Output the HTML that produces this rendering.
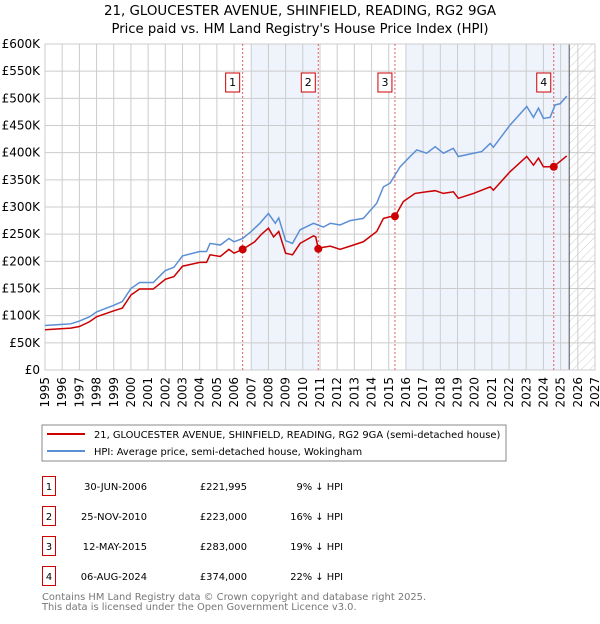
<!DOCTYPE html>
<html><head><meta charset="utf-8"><style>
body{margin:0;background:#fff;font-family:"DejaVu Sans","Liberation Sans",sans-serif;}
svg text{font-family:"DejaVu Sans","Liberation Sans",sans-serif;}
</style></head><body>
<svg id="c" width="600" height="620" xmlns="http://www.w3.org/2000/svg">
<defs><pattern id="hatch" width="6" height="6" patternUnits="userSpaceOnUse" patternTransform="rotate(45)"><line x1="0" y1="0" x2="0" y2="6" stroke="#ccc" stroke-width="1"/></pattern></defs>
<text x="300" y="15" text-anchor="middle" font-size="13.4">21, GLOUCESTER AVENUE, SHINFIELD, READING, RG2 9GA</text>
<text x="300" y="33" text-anchor="middle" font-size="13.2">Price paid vs. HM Land Registry's House Price Index (HPI)</text>
<g id="plot"></g>
<rect x="42" y="425" width="464" height="36" fill="none" stroke="#888"/>
<line x1="47" y1="434" x2="85" y2="434" stroke="#cc0000" stroke-width="2"/>
<text x="94" y="438" font-size="9.9">21, GLOUCESTER AVENUE, SHINFIELD, READING, RG2 9GA (semi-detached house)</text>
<line x1="47" y1="451" x2="85" y2="451" stroke="#5b8fd4" stroke-width="2"/>
<text x="94" y="455" font-size="9.9">HPI: Average price, semi-detached house, Wokingham</text>
<g id="tbl" font-size="9.9"></g>
<text x="42" y="600" font-size="9.9" fill="#777">Contains HM Land Registry data © Crown copyright and database right 2025.</text>
<text x="42" y="610" font-size="9.9" fill="#777">This data is licensed under the Open Government Licence v3.0.</text>
</svg>
<script>
const yTicks=[0,50,100,150,200,250,300,350,400,450,500,550,600];
const yTickLabels=["£0","£50K","£100K","£150K","£200K","£250K","£300K","£350K","£400K","£450K","£500K","£550K","£600K"];
const xYears=[1995,1996,1997,1998,1999,2000,2001,2002,2003,2004,2005,2006,2007,2008,2009,2010,2011,2012,2013,2014,2015,2016,2017,2018,2019,2020,2021,2022,2023,2024,2025,2026,2027];
const hpiYears=[1995,1996,1996.5,1997,1997.6,1998,1999,1999.5,2000,2000.5,2001.3,2002,2002.5,2003,2004,2004.4,2004.6,2005.2,2005.7,2006,2006.5,2007,2007.5,2008,2008.4,2008.6,2009,2009.4,2009.84,2010.62,2011.2,2011.6,2012.17,2012.75,2013.52,2014.3,2014.69,2015.08,2015.66,2016.24,2016.63,2017.21,2017.7,2018.18,2018.76,2019.05,2019.93,2020.41,2020.9,2021.09,2022.06,2023.03,2023.42,2023.71,2024.0,2024.39,2024.68,2024.97,2025.36];
const hpiValues=[82,84,85,90,98,107,119,126,150,161,161,183,189,210,218,218,233,230,242,236,242,255,270,288,270,280,238,233,258,270,263,270,267,275,279,307,337,344,374,393,405,399,411,399,408,393,399,402,417,410,451,485,465,482,463,465,488,490,504];
const priceYears=[1995,1996.5,1997,1997.6,1998,1999,1999.5,2000,2000.5,2001.3,2002,2002.5,2003,2004,2004.4,2004.6,2005.2,2005.7,2006,2006.5,2007.2,2007.6,2008,2008.3,2008.6,2009,2009.4,2009.84,2010.62,2010.75,2010.9,2011.2,2011.6,2012.17,2012.75,2013.52,2014.3,2014.69,2015.08,2015.37,2015.85,2016.53,2017.21,2017.7,2018.18,2018.76,2019.05,2019.93,2020.9,2021.09,2022.06,2023.03,2023.42,2023.71,2024.0,2024.58,2025.36];
const priceValues=[74,77,80,89,98,109,114,138,149,149,167,172,191,198,198,212,209,222,215,222,236,250,261,245,255,215,212,233,247,245,223,226,228,222,228,236,255,279,282,283,310,325,328,330,325,328,316,325,337,331,365,393,377,390,374,374,394];
const saleLabels=["1","2","3","4"];
const saleYears=[2006.5,2010.9,2015.36,2024.6];
const saleValues=[221.995,223,283,374];
const saleDates=["30-JUN-2006","25-NOV-2010","12-MAY-2015","06-AUG-2024"];
const salePrices=["£221,995","£223,000","£283,000","£374,000"];
const saleDiffs=["9% ↓ HPI","16% ↓ HPI","19% ↓ HPI","22% ↓ HPI"];
const NS="http://www.w3.org/2000/svg";
const L=45,R=595,T=44,B=370;
const xs=y=>L+(y-1995)/32*(R-L);
const ys=v=>B-v/600*(B-T);
const plot=document.getElementById('plot');
function mk(tag,attrs,parent){const e=document.createElementNS(NS,tag);for(const k in attrs)e.setAttribute(k,attrs[k]);(parent||plot).appendChild(e);return e;}
let s1=mk('rect',{x:xs(2007),y:T,width:xs(2010.9)-xs(2007),height:B-T,fill:'#eef3fc'});


let s2=mk('rect',{x:xs(2016),y:T,width:xs(2025.5)-xs(2016),height:B-T,fill:'#eef3fc'});


let hz=mk('rect',{x:xs(2025.5),y:T,width:R-xs(2025.5),height:B-T,fill:'url(#hatch)'});


yTicks.forEach((v,i)=>{
 let g=mk('line',{x1:L,x2:R,y1:ys(v),y2:ys(v),stroke:'#ccc','stroke-width':1});
 
 
 let t=mk('text',{x:L-5,y:ys(v)+4,'text-anchor':'end','font-size':12});
 t.textContent=yTickLabels[i];
 
 
});
xYears.forEach(yr=>{
 let g=mk('line',{x1:xs(yr),x2:xs(yr),y1:T,y2:B,stroke:'#ccc','stroke-width':1});
 
 
 let t=mk('text',{x:0,y:0,'text-anchor':'end','font-size':12,transform:`translate(${xs(yr)+4},${B+7}) rotate(-90)`});
 t.textContent=yr;
 
 
});
let vl=mk('line',{x1:xs(2025.5),x2:xs(2025.5),y1:T,y2:B,stroke:'#555','stroke-width':1});


let fr=mk('rect',{x:L,y:T,width:R-L,height:B-T,fill:'none',stroke:'#ccc'});


saleYears.forEach((yr,i)=>{
 let d=mk('line',{x1:xs(yr),x2:xs(yr),y1:T,y2:B,stroke:'#e06060','stroke-width':1,'stroke-dasharray':'2,2'});
 
 
 let bx=xs(yr)-10;
 let r=mk('rect',{x:bx-7,y:73,width:14,height:19,fill:'#fff',stroke:'#cc0000'});
 
 
 let t=mk('text',{x:bx,y:86,'text-anchor':'middle','font-size':11});
 t.textContent=saleLabels[i];
 
 
});
let hp=mk('polyline',{points:hpiYears.map((y,i)=>xs(y)+','+ys(hpiValues[i])).join(' '),fill:'none',stroke:'#5b8fd4','stroke-width':1.5});


let pp=mk('polyline',{points:priceYears.map((y,i)=>xs(y)+','+ys(priceValues[i])).join(' '),fill:'none',stroke:'#cc0000','stroke-width':1.5});


saleYears.forEach((yr,i)=>{
 let c=mk('circle',{cx:xs(yr),cy:ys(saleValues[i]),r:4,fill:'#cc0000'});
 
 
});
const tbl=document.getElementById('tbl');
saleLabels.forEach((lab,i)=>{
 const y0=476+i*30;
 let r=mk('rect',{x:42.5,y:y0+0.5,width:13,height:19,fill:'#fff',stroke:'#cc0000'},tbl);
 
 
 let t=mk('text',{x:49,y:y0+14,'text-anchor':'middle'},tbl);t.textContent=lab;
 
 
 let d=mk('text',{x:147,y:y0+14,'text-anchor':'end'},tbl);d.textContent=saleDates[i];
 
 
 let p=mk('text',{x:247,y:y0+14,'text-anchor':'end'},tbl);p.textContent=salePrices[i];
 
 
 let h=mk('text',{x:343,y:y0+14,'text-anchor':'end'},tbl);h.textContent=saleDiffs[i];
 
 
});
</script>
</body></html>
